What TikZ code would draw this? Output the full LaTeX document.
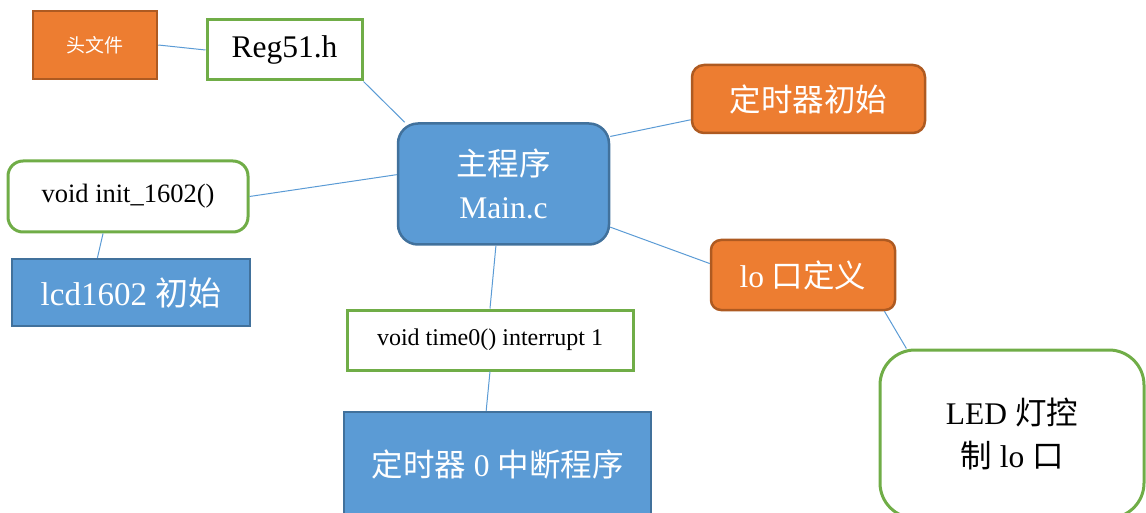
\documentclass[tikz,border=0pt]{standalone}
\usepackage{fontspec}
\setmainfont{Liberation Serif}
\newfontfamily\cjk{Noto Sans CJK SC}
\definecolor{orfill}{HTML}{ED7D31}
\definecolor{orline}{HTML}{AE5A21}
\definecolor{blfill}{HTML}{5B9BD5}
\definecolor{blline}{HTML}{41719C}
\definecolor{grline}{HTML}{70AD47}
\begin{document}
\begin{tikzpicture}[x=1pt,y=-1pt,
  orangebox/.style={fill=orfill,draw=orline,line width=2.5pt,text=white,inner sep=0pt},
  bluebox/.style={fill=blfill,draw=blline,line width=2.5pt,text=white,inner sep=0pt},
  greenbox/.style={fill=white,draw=grline,line width=3pt,text=black,inner sep=0pt},
  link/.style={draw=blfill,line width=1pt},
  big/.style={font=\fontsize{31.5}{43}\selectfont}]
\useasboundingbox (0,0) rectangle (1146,513);
\clip (0,0) rectangle (1146,513);

\node[orangebox,minimum width=124pt,minimum height=68pt,font=\fontsize{19}{22}\selectfont] (hdr) at (95,45) {\cjk 头文件};
\node[greenbox,minimum width=155pt,minimum height=60pt,font=\fontsize{31.5}{36}\selectfont] (reg) at (284.5,50) {Reg51.h};
\node[bluebox,rounded corners=20pt,minimum width=211pt,minimum height=121pt,big,align=center] (main) at (503.5,184) {{\cjk 主程序}\\Main.c};
\node[orangebox,rounded corners=12pt,minimum width=233pt,minimum height=68pt,big] (tmr) at (808.5,99) {\cjk 定时器初始};
\node[greenbox,rounded corners=15pt,minimum width=240pt,minimum height=71pt,font=\fontsize{26.5}{30}\selectfont] (init) at (128,196.5) {void init\_1602()};
\node[bluebox,minimum width=238pt,minimum height=67pt,font=\fontsize{33}{40}\selectfont] (lcd) at (131,292.5) {lcd1602 {\cjk 初始}};
\node[orangebox,rounded corners=10pt,minimum width=184pt,minimum height=70pt,big] (io) at (803,275) {lo {\cjk 口定义}};
\node[greenbox,minimum width=286pt,minimum height=60pt,font=\fontsize{24}{28}\selectfont] (time) at (490,340) {void time0() interrupt 1};
\node[bluebox,minimum width=307pt,minimum height=104pt,big] (tint) at (497.5,464) {{\cjk 定时器} 0 {\cjk 中断程序}};
\node[greenbox,rounded corners=35pt,minimum width=264pt,minimum height=168pt,big,align=center] (led) at (1012,434) {LED {\cjk 灯控}\\{\cjk 制} lo {\cjk 口}};

\draw[link] (hdr.east) -- (reg.west);
\draw[link] (reg.south east) -- (main.148);
\draw[link] (main.24) -- (tmr.190);
\draw[link] (init.east) -- (main.175);
\draw[link] (init.236) -- (lcd.134);
\draw[link] (main.263) -- (time.north);
\draw[link] (time.south) -- (tint.102);
\draw[link] (main.338) -- (io.173);
\draw[link] (io.336) -- (led.141);
\end{tikzpicture}
\end{document}
